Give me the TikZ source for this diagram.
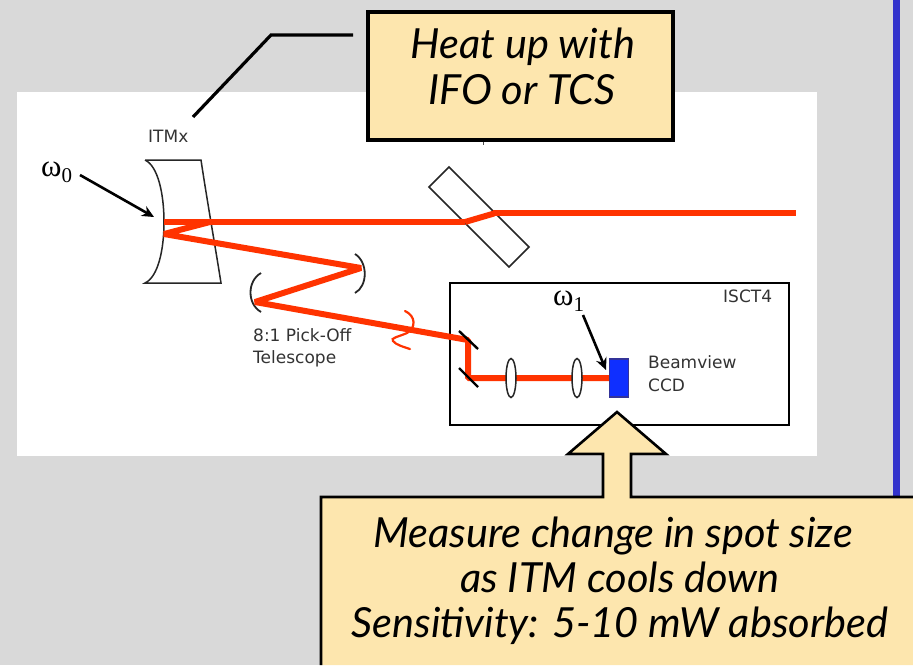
\documentclass[tikz,border=0pt]{standalone}
\usepackage{fontspec}
\setmainfont{DejaVu Sans}
\newfontfamily\calloutfont{Lato}[ItalicFont=Lato Italic]
\newfontfamily\labelfont{DejaVu Sans}
\newfontfamily\greekfont{Liberation Serif}
\definecolor{pagegray}{HTML}{D9D9D9}
\definecolor{calloutfill}{HTML}{FDE6AE}
\definecolor{beamred}{HTML}{FF3300}
\definecolor{barblue}{HTML}{3333CC}
\definecolor{ccdblue}{HTML}{0F2FFF}
\definecolor{ccdedge}{HTML}{333399}
\definecolor{labelgray}{HTML}{333333}
\usetikzlibrary{arrows.meta}
\tikzset{
  callout/.style={draw=black,fill=calloutfill,line width=3.5pt,line join=miter},
  calltext/.style={font=\calloutfont\itshape\fontsize{41.5}{41.5}\selectfont,text=black,inner sep=0pt,anchor=base},
  lab/.style={font=\labelfont\fontsize{17}{17}\selectfont,text=labelgray,inner sep=0pt,anchor=base west},
  greek/.style={font=\greekfont\fontsize{31}{31}\selectfont,text=black,inner sep=0pt,anchor=base west},
  beam/.style={draw=beamred,line width=6pt,line join=bevel},
  optic/.style={draw=black!85,line width=1.5pt},
  pointer/.style={draw=black,line width=2.6pt,-{Stealth[length=12pt,width=11pt]}},
}
\begin{document}
\begin{tikzpicture}[x=1pt,y=-1pt]
\useasboundingbox (0,0) rectangle (913,665);
\fill[pagegray] (0,0) rectangle (913,665);
\fill[barblue] (893,0) rectangle (900,497);
\fill[white] (17,92) rectangle (817,456);

% ITM
\draw[optic,line join=miter] (145,160) -- (201,160) .. controls (207,200) and (215,245) .. (221,283) -- (145,283)
  .. controls (158,277) and (164,250) .. (164,222) .. controls (164,194) and (158,166) .. (145,160);
% beam splitter
\draw[optic] (449,167) -- (429,187) -- (509,267) -- (529,247) -- cycle;
% ISCT table
\draw[draw=black,line width=2.2pt] (450,283) rectangle (789,425);

% telescope mirrors
\draw[optic,line width=1.8pt] (355,254) .. controls (368,262) and (368,286) .. (355,293);
\draw[optic,line width=1.8pt] (261,273) .. controls (247,281) and (247,304) .. (261,312);

% beams
\draw[beam,line width=6.5pt] (164,222) -- (465,222);
\draw[beam] (465,222) -- (494,213.5);
\draw[beam,line width=5.5pt] (493,213) -- (796,213);
\draw[beam,line width=6pt] (210,222) -- (164,234) -- (361,268) -- (255,302) -- (468,340) -- (468,378) -- (610,378);
\draw[draw=beamred,line width=2.2pt,line cap=round] (405,311) .. controls (416,316) and (416,328) .. (407,333)
  .. controls (398,337) and (390,338) .. (393,341) .. controls (396,345) and (404,347) .. (410,349);

% steering mirrors
\draw[draw=black,line width=2.4pt] (459,331) -- (478,349);
\draw[draw=black,line width=2.4pt] (459,368) -- (478,387);
% lenses
\draw[optic,fill=white] (511,378) ellipse (5pt and 19.5pt);
\draw[optic,fill=white] (577,378) ellipse (5pt and 19.5pt);
% CCD
\node[draw=ccdedge,fill=ccdblue,line width=1.2pt,minimum width=19pt,minimum height=38pt,inner sep=0pt] (ccd) at (619,378) {};

% labels
\node[lab] (itm) at (148,142) {ITMx};
\node[lab] (pick) at (253,341) {8:1 Pick-Off};
\node[lab] (tele) at (253,363) {Telescope};
\node[lab] (isct) at (723,302) {ISCT4};
\node[lab] (bv) at (648,368) {Beamview};
\node[lab] (bccd) at (648,391) {CCD};

% waists
\node[greek] (w0) at (41,176) {ω\raisebox{-6pt}{\fontsize{21}{21}\selectfont 0}};
\node[greek] (w1) at (553,305) {ω\raisebox{-6pt}{\fontsize{21}{21}\selectfont 1}};
\coordinate (w0s) at (80,175);
\coordinate (w0e) at (154,217);
\coordinate (w1s) at (583,315);
\coordinate (w1e) at (606,370);
\draw[pointer] (w0s) -- (w0e);
\draw[pointer] (w1s) -- (w1e);

% hidden label stub
\draw[draw=black!70,line width=1pt] (483,140) -- (483,145);

% top callout
\node[callout,minimum width=305pt,minimum height=128pt,inner sep=0pt] (heat) at (520.5,76) {};
\node[calltext] (heat1) at (523,58) {Heat up with};
\node[calltext] (heat2) at (522,104) {IFO or TCS};
\coordinate (lead1) at (193,117);
\coordinate (lead2) at (271,35);
\coordinate (lead3) at (353,35);
\draw[draw=black,line width=3.2pt,line join=miter] (lead1) -- (lead2) -- (lead3);

% bottom callout
\fill[calloutfill] (321,665) -- (321,497) -- (603,497) -- (603,454) -- (568,454) -- (617,412) -- (666,454) -- (631,454) -- (631,497) -- (913,497) -- (913,665) -- cycle;
\draw[draw=black,line width=2.6pt,line join=miter] (321,665) -- (321,497) -- (603,497) -- (603,454) -- (568,454) -- (617,412) -- (666,454) -- (631,454) -- (631,497) -- (913,497);
\node[calltext] (m1) at (613,547) {Measure change in spot size};
\node[calltext] (m2) at (620,592) {as ITM cools down};
\node[calltext] (m3) at (620,637) {Sensitivity: 5-10 mW absorbed};
\end{tikzpicture}
\end{document}
